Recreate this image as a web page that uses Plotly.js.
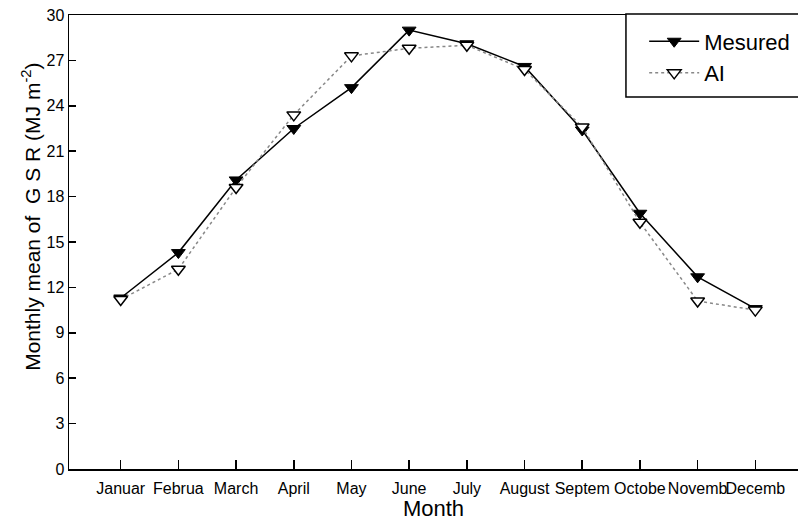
<!DOCTYPE html>
<html>
<head>
<meta charset="utf-8">
<script src="https://cdn.plot.ly/plotly-3.0.1.min.js"></script>
<style>html,body{margin:0;padding:0;background:#fff;}#chart{width:798px;height:521px;}</style>
</head>
<body>
<div id="chart"></div>
<script>
// Data
const months = ["Januar","Februa","March","April","May","June","July","August","Septem","Octobe","Novemb","Decemb"];
const mesured = [11.3, 14.3, 19.1, 22.5, 25.2, 29.0, 28.1, 26.6, 22.4, 16.9, 12.7, 10.6];
const ai = [11.2, 13.2, 18.6, 23.4, 27.3, 27.8, 28.0, 26.4, 22.6, 16.3, 11.1, 10.5];
const yTicks = [0, 3, 6, 9, 12, 15, 18, 21, 24, 27, 30];
const yTitle = "Monthly mean of&nbsp;&nbsp;G S R (MJ m<sup>-2</sup>)";

const FONT = "Liberation Sans, Arial, sans-serif";

const traces = [
  {
    x: months, y: mesured, name: "Mesured", type: "scatter", mode: "lines+markers",
    line: {color: "#000", width: 1.5, dash: "solid"},
    marker: {symbol: "triangle-down", size: 12, color: "#000", line: {color: "#000", width: 1}}
  },
  {
    x: months, y: ai, name: "AI", type: "scatter", mode: "lines+markers",
    line: {color: "#888", width: 1.5, dash: "dot"},
    marker: {symbol: "triangle-down", size: 12, color: "#fff", line: {color: "#000", width: 1.5}}
  }
];

const layout = {
  width: 798, height: 521,
  margin: {l: 69, r: 0, t: 15, b: 52, pad: 0},
  paper_bgcolor: "#fff", plot_bgcolor: "#fff",
  font: {family: FONT, color: "#000", size: 16},
  showlegend: true,
  legend: {
    x: 0.789, y: 0.988, xanchor: "left", yanchor: "top",
    bgcolor: "rgba(0,0,0,0)", borderwidth: 0,
    font: {family: FONT, size: 22, color: "#000"},
    itemwidth: 50, tracegroupgap: 0
  },
  xaxis: {
    type: "category", range: [-0.896, 11.74],
    showline: true, linecolor: "#000", linewidth: 1.5, mirror: true,
    ticks: "inside", ticklen: 9, tickwidth: 1.5, tickcolor: "#000",
    showgrid: false, zeroline: false, tickangle: 0,
    tickfont: {family: FONT, size: 16, color: "#000"},
    ticklabelstandoff: 4,
    title: {text: "Month", font: {family: FONT, size: 22, color: "#000"}, standoff: 0},
    automargin: false
  },
  yaxis: {
    range: [0, 30], tickvals: yTicks, ticktext: yTicks.map(String),
    showline: true, linecolor: "#000", linewidth: 1.5, mirror: false,
    ticks: "inside", ticklen: 7, tickwidth: 1.5, tickcolor: "#000",
    showgrid: false, zeroline: false,
    tickfont: {family: FONT, size: 16, color: "#000"},
    automargin: false
  },
  annotations: [{
    text: yTitle, xref: "paper", yref: "paper",
    x: (31 - 69) / 729, y: (469.3 - 217) / 454.3, xanchor: "center", yanchor: "middle",
    textangle: -90, showarrow: false,
    font: {family: FONT, size: 21, color: "#000"}
  }],
  shapes: [{
    type: "rect", xref: "paper", yref: "paper",
    x0: 0.764, x1: 1.05, y0: 0.8195, y1: 1.002,
    fillcolor: "#fff", line: {color: "#000", width: 1.5}, layer: "above"
  }]
};

Plotly.newPlot("chart", traces, layout, {displayModeBar: false, staticPlot: true});
</script>
</body>
</html>
